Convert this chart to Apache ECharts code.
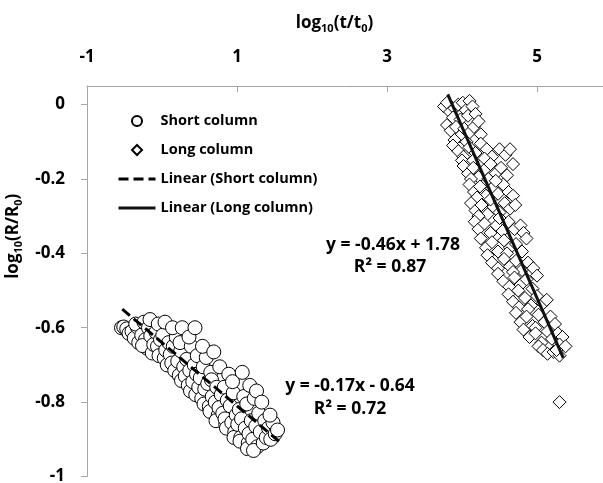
<!DOCTYPE html>
<html>
<head>
<meta charset="utf-8">
<script src="https://cdn.jsdelivr.net/npm/echarts@6/dist/echarts.min.js"></script>
<style>
  html, body { margin: 0; padding: 0; background: #fff; }
  #chart { width: 603px; height: 483px; }
</style>
</head>
<body>
<div id="chart"></div>
<script>
// log10(t/t0), log10(R/R0) pairs for the short column
const shortColumn = [
  [-0.54,-0.600],[-0.51,-0.598],[-0.47,-0.603],[-0.44,-0.615],
  [-0.40,-0.610],[-0.37,-0.628],[-0.33,-0.598],[-0.31,-0.640],[-0.35,-0.590],
  [-0.27,-0.620],[-0.24,-0.585],[-0.22,-0.632],[-0.20,-0.655],[-0.26,-0.648],
  [-0.18,-0.600],[-0.15,-0.622],[-0.13,-0.668],[-0.11,-0.645],[-0.16,-0.578],
  [-0.08,-0.612],[-0.06,-0.650],[-0.04,-0.675],[-0.02,-0.632],[-0.05,-0.590],
  [0.01,-0.620],[0.03,-0.682],[0.05,-0.660],[0.07,-0.700],[0.09,-0.640],[0.04,-0.585],
  [0.11,-0.672],[0.13,-0.695],[0.15,-0.650],[0.17,-0.715],[0.19,-0.625],[0.14,-0.600],
  [0.21,-0.690],[0.23,-0.728],[0.25,-0.662],[0.27,-0.600],[0.29,-0.705],[0.26,-0.742],[0.24,-0.640],
  [0.31,-0.730],[0.33,-0.685],[0.35,-0.755],[0.37,-0.715],[0.39,-0.650],[0.36,-0.625],[0.38,-0.770],
  [0.41,-0.745],[0.43,-0.700],[0.45,-0.780],[0.47,-0.675],[0.49,-0.760],[0.44,-0.600],[0.46,-0.725],
  [0.51,-0.735],[0.53,-0.790],[0.55,-0.705],[0.57,-0.765],[0.59,-0.680],[0.54,-0.650],[0.56,-0.805],
  [0.61,-0.750],[0.63,-0.812],[0.65,-0.720],[0.67,-0.785],[0.69,-0.665],[0.64,-0.825],[0.66,-0.740],
  [0.71,-0.800],[0.73,-0.760],[0.75,-0.835],[0.77,-0.705],[0.79,-0.780],[0.72,-0.850],[0.76,-0.815],
  [0.81,-0.830],[0.83,-0.760],[0.85,-0.860],[0.87,-0.795],[0.89,-0.725],[0.84,-0.845],[0.86,-0.870],
  [0.91,-0.810],[0.93,-0.855],[0.95,-0.775],[0.97,-0.880],[0.99,-0.835],[0.94,-0.745],[0.96,-0.895],
  [1.01,-0.860],[1.03,-0.820],[1.05,-0.895],[1.07,-0.720],[1.09,-0.785],[1.04,-0.905],[1.06,-0.845],
  [1.11,-0.870],[1.13,-0.805],[1.15,-0.910],[1.17,-0.755],[1.19,-0.850],[1.14,-0.925],[1.16,-0.885],
  [1.21,-0.900],[1.23,-0.790],[1.25,-0.865],[1.27,-0.920],[1.29,-0.830],[1.22,-0.930],[1.26,-0.770],
  [1.31,-0.880],[1.33,-0.800],[1.35,-0.910],[1.37,-0.850],[1.39,-0.895],
  [1.42,-0.870],[1.45,-0.900],[1.48,-0.855],[1.51,-0.885],[1.54,-0.875],[1.44,-0.835]
];

// log10(t/t0), log10(R/R0) pairs for the long column
const longColumn = [
  [3.76,-0.005],[3.80,0.005],[3.84,-0.020],[3.90,-0.010],[3.95,0.000],[4.01,0.005],[4.05,-0.015],
  [4.10,0.010],[4.14,-0.005],[3.88,-0.035],[3.98,-0.040],[4.08,-0.030],[4.18,-0.025],
  [3.80,-0.055],[3.85,-0.070],[3.92,-0.060],[3.97,-0.085],[4.03,-0.065],[4.10,-0.075],[4.16,-0.060],
  [4.22,-0.045],[3.90,-0.095],[4.06,-0.100],[4.25,-0.080],
  [3.88,-0.110],[3.95,-0.125],[4.02,-0.140],[4.10,-0.115],[4.18,-0.130],[4.25,-0.105],[4.33,-0.120],
  [4.40,-0.140],[4.50,-0.120],[4.58,-0.135],[4.64,-0.120],[4.00,-0.150],[4.15,-0.150],[4.30,-0.145],
  [4.02,-0.165],[4.08,-0.185],[4.15,-0.170],[4.22,-0.195],[4.30,-0.175],[4.38,-0.160],[4.45,-0.185],
  [4.52,-0.170],[4.60,-0.190],[4.68,-0.160],[4.12,-0.200],[4.35,-0.200],
  [4.10,-0.215],[4.16,-0.235],[4.24,-0.220],[4.32,-0.245],[4.40,-0.225],[4.48,-0.240],[4.55,-0.215],
  [4.62,-0.235],[4.68,-0.245],[4.20,-0.250],[4.45,-0.205],
  [4.12,-0.265],[4.18,-0.285],[4.26,-0.270],[4.34,-0.295],[4.42,-0.275],[4.50,-0.290],[4.57,-0.265],
  [4.64,-0.280],[4.71,-0.270],[4.38,-0.255],[4.22,-0.300],
  [4.17,-0.315],[4.22,-0.335],[4.30,-0.320],[4.38,-0.345],[4.46,-0.325],[4.54,-0.340],[4.62,-0.315],
  [4.70,-0.335],[4.78,-0.325],[4.82,-0.345],[4.50,-0.305],
  [4.25,-0.360],[4.32,-0.385],[4.40,-0.370],[4.48,-0.395],[4.56,-0.365],[4.64,-0.385],[4.72,-0.375],
  [4.80,-0.395],[4.86,-0.360],[4.60,-0.400],
  [4.34,-0.405],[4.40,-0.425],[4.48,-0.440],[4.56,-0.415],[4.64,-0.435],[4.72,-0.420],[4.80,-0.445],
  [4.88,-0.425],[4.95,-0.440],[4.68,-0.450],
  [4.48,-0.455],[4.55,-0.475],[4.63,-0.490],[4.70,-0.465],[4.78,-0.485],[4.86,-0.470],[4.94,-0.495],
  [5.00,-0.460],[4.75,-0.500],
  [4.62,-0.510],[4.68,-0.530],[4.76,-0.545],[4.84,-0.520],[4.92,-0.540],[5.00,-0.515],[5.08,-0.535],
  [5.13,-0.525],[4.88,-0.550],
  [4.72,-0.560],[4.78,-0.585],[4.86,-0.570],[4.94,-0.595],[5.02,-0.565],[5.10,-0.585],[5.18,-0.570],
  [5.24,-0.590],[4.98,-0.600],
  [4.82,-0.605],[4.90,-0.625],[4.98,-0.615],[5.06,-0.640],[5.14,-0.610],[5.20,-0.630],[5.28,-0.615],
  [5.34,-0.625],[5.02,-0.650],[5.30,-0.645],
  [5.08,-0.660],[5.14,-0.670],[5.22,-0.665],[5.30,-0.675],[5.38,-0.650],[5.26,-0.660],
  [5.30,-0.800]
];

// Fitted trend lines: slope, intercept and the x span each one covers
const shortFit = { slope: -0.17, intercept: -0.64, r2: 0.72, from: -0.53, to: 1.58 };
const longFit  = { slope: -0.46, intercept: 1.78,  r2: 0.87, from: 3.81, to: 5.35 };

const xTicks = { min: -1, max: 6, step: 2 };
const yTicks = { min: -1, max: 0.05, step: 0.2 };

const FONT = '"Open Sans"';

function fitLine(fit) {
  return [fit.from, fit.to].map(x => [x, +(fit.slope * x + fit.intercept).toFixed(4)]);
}
function eqText(fit) {
  const sign = fit.intercept < 0 ? '-' : '+';
  return 'y = ' + fit.slope.toFixed(2) + 'x ' + sign + ' ' + Math.abs(fit.intercept).toFixed(2);
}

const chart = echarts.init(document.getElementById('chart'), null, { renderer: 'canvas' });

const titleRich = {
  b: { fontFamily: FONT, fontWeight: 'bold', fontSize: 17, color: '#000', lineHeight: 22, verticalAlign: 'middle' },
  s: { fontFamily: FONT, fontWeight: 'bold', fontSize: 11, color: '#000', lineHeight: 12, verticalAlign: 'bottom' }
};
const eqFont = 'bold 17.5px ' + FONT;

// Legend marker for the diamonds: a 10px diamond centred in the 37x10 legend slot
const diamondIcon = 'path://M0,5M37,5M18.5,0L23.5,5L18.5,10L13.5,5Z';

chart.setOption({
  animation: false,
  backgroundColor: '#fff',
  grid: { left: 87, top: 86, width: 525, height: 390.5, containLabel: false, outerBoundsMode: 'none' },
  legend: {
    orient: 'vertical',
    left: 112,
    top: 108,
    itemWidth: 37,
    itemHeight: 10,
    itemGap: 13,
    selectedMode: false,
    textStyle: { fontFamily: FONT, fontWeight: 'bold', fontSize: 14.5, color: '#000', lineHeight: 16 },
    data: [
      { name: 'Short column', icon: 'circle' },
      { name: 'Long column', icon: diamondIcon },
      { name: 'Linear (Short column)', itemStyle: { opacity: 0 }, lineStyle: { width: 3 } },
      { name: 'Linear (Long column)', itemStyle: { opacity: 0 }, lineStyle: { width: 3 } }
    ]
  },
  xAxis: {
    type: 'value',
    position: 'top',
    min: xTicks.min,
    max: xTicks.max,
    interval: xTicks.step,
    name: '{b|log}{s|10}{b|(t/t}{s|0}{b|)}',
    nameLocation: 'middle',
    nameGap: 52,
    nameTextStyle: { rich: titleRich, padding: [0, 30, 0, 0] },
    axisLine: { show: true, onZero: false, lineStyle: { color: '#a6a6a6', width: 1 } },
    axisTick: { show: true, inside: true, length: 6, lineStyle: { color: '#a6a6a6' } },
    axisLabel: { showMaxLabel: false, margin: 20, fontFamily: FONT, fontWeight: 'bold', fontSize: 17, color: '#000' },
    splitLine: { show: false }
  },
  yAxis: {
    type: 'value',
    min: yTicks.min,
    max: yTicks.max,
    interval: yTicks.step,
    name: '{b|log}{s|10}{b|(R/R}{s|0}{b|)}',
    nameLocation: 'middle',
    nameRotate: 90,
    nameGap: 51,
    nameTextStyle: { rich: titleRich, padding: [0, 0, 0, 90] },
    axisLine: { show: true, onZero: false, lineStyle: { color: '#a6a6a6', width: 1 } },
    axisTick: { show: true, inside: false, length: 6, lineStyle: { color: '#a6a6a6' } },
    axisLabel: {
      showMaxLabel: false, margin: 22, fontFamily: FONT, fontWeight: 'bold', fontSize: 17, color: '#000',
      formatter: v => String(+v.toFixed(1))
    },
    splitLine: { show: false }
  },
  series: [
    {
      name: 'Short column',
      type: 'scatter',
      symbol: 'circle',
      symbolSize: 14,
      itemStyle: { color: '#fff', borderColor: '#000', borderWidth: 1, opacity: 1 },
      data: shortColumn
    },
    {
      name: 'Long column',
      type: 'scatter',
      symbol: 'diamond',
      symbolSize: 13,
      itemStyle: { color: '#fff', borderColor: '#000', borderWidth: 1, opacity: 1 },
      data: longColumn
    },
    {
      name: 'Linear (Short column)',
      type: 'line',
      symbol: 'none',
      lineStyle: { color: '#000', width: 3, type: [10, 5] },
      itemStyle: { color: '#000' },
      data: fitLine(shortFit)
    },
    {
      name: 'Linear (Long column)',
      type: 'line',
      symbol: 'none',
      lineStyle: { color: '#111', width: 3 },
      itemStyle: { color: '#000' },
      data: fitLine(longFit)
    }
  ],
  graphic: [
    { type: 'text', x: 393, y: 245, style: { text: eqText(longFit), align: 'center', verticalAlign: 'middle', font: eqFont, fill: '#000' } },
    { type: 'text', x: 390, y: 267, style: { text: 'R² = ' + longFit.r2.toFixed(2), align: 'center', verticalAlign: 'middle', font: eqFont, fill: '#000' } },
    { type: 'text', x: 350, y: 386, style: { text: eqText(shortFit), align: 'center', verticalAlign: 'middle', font: eqFont, fill: '#000' } },
    { type: 'text', x: 350, y: 409, style: { text: 'R² = ' + shortFit.r2.toFixed(2), align: 'center', verticalAlign: 'middle', font: eqFont, fill: '#000' } }
  ]
});
</script>
</body>
</html>
